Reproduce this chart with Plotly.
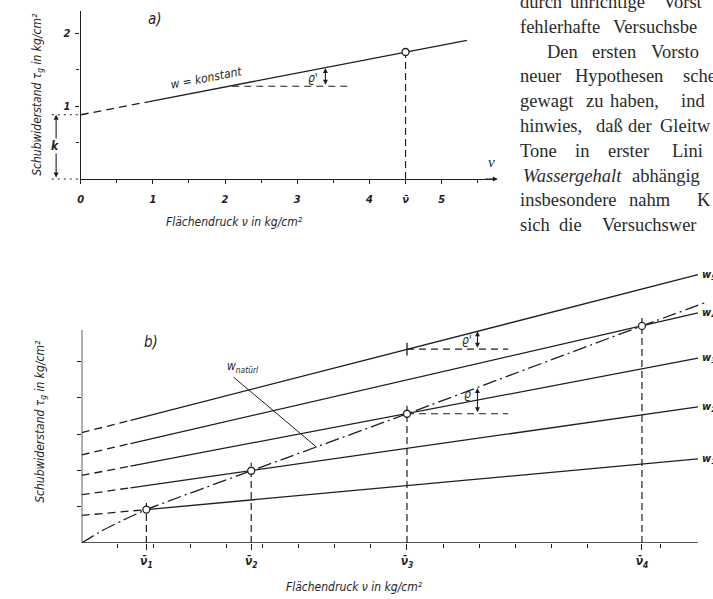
import plotly.graph_objects as go

W, H = 713, 599
INK = "#1e1e1e"
SANS = "DejaVu Sans Condensed, Liberation Sans Narrow, DejaVu Sans, sans-serif"
SERIF = "Liberation Serif, DejaVu Serif, serif"

# ---------------- panel a) data ----------------
a_line_x = [0.0, 0.95, 4.5, 5.35]
a_line_y = [0.88, 1.06, 1.74, 1.90]
a_nu_bar_x = [4.5]
a_nu_bar_y = [1.74]
a_k = 0.88
a_xtick_vals = [0, 1, 2, 3, 4, 4.5, 5]
a_xtick_text = ["0", "1", "2", "3", "4", "ν̄", "5"]
a_ytick_vals = [1, 2]
a_ytick_text = ["1", "2"]

# ---------------- panel b) data ----------------
b_w_labels = ["w<sub>1</sub>", "w<sub>2</sub>", "w<sub>3</sub>", "w<sub>4</sub>", "w<sub>5</sub>"]
b_w1_x, b_w1_y = [0.0, 1.79, 17.05], [0.76, 0.92, 2.32]
b_w2_x, b_w2_y = [0.0, 1.35, 17.05], [1.33, 1.52, 3.75]
b_w3_x, b_w3_y = [0.0, 1.35, 17.05], [1.86, 2.12, 5.09]
b_w4_x, b_w4_y = [0.0, 1.35, 17.05], [2.43, 2.74, 6.34]
b_w5_x, b_w5_y = [0.0, 1.35, 17.05], [3.04, 3.38, 7.39]
b_nat_x = [0.0, 0.55, 1.15, 1.79, 4.69, 9.0, 15.5, 17.3]
b_nat_y = [0.0, 0.33, 0.63, 0.92, 1.99, 3.56, 5.98, 6.64]
b_nu_bar_x = [1.79, 4.69, 9.0, 15.5]
b_nu_bar_y = [0.92, 1.99, 3.56, 5.98]
b_nu_bar_text = ["ν̄<sub>1</sub>", "ν̄<sub>2</sub>", "ν̄<sub>3</sub>", "ν̄<sub>4</sub>"]
b_minor_ticks = [1, 2, 3, 4, 5, 6, 7, 8, 10, 11, 12, 13, 14, 16]
b_ytick_vals = [1, 2, 3, 4, 5]

# ---------------- book text (right column) ----------------
text_lines = [
    [("durch", 517), ("unrichtige", 567), ("Vorst", 661)],
    [("fehlerhafte", 517), ("Versuchsbe", 611)],
    [("Den", 544), ("ersten", 589), ("Vorsto", 649)],
    [("neuer", 517), ("Hypothesen", 572), ("sche", 681)],
    [("gewagt", 517), ("zu", 583), ("haben,", 608), ("ind", 679)],
    [("hinwies,", 517), ("daß", 593), ("der", 626), ("Gleitw", 658)],
    [("Tone", 517), ("in", 572), ("erster", 606), ("Lini", 670)],
    [("<i>Wassergehalt</i>", 520), ("abhängig", 630)],
    [("insbesondere", 517), ("nahm", 627), ("K", 695)],
    [("sich", 517), ("die", 556), ("Versuchswer", 600)],
]

# ---------------- geometry (pixels) ----------------
A_X0, A_XU, A_Y0, A_YU = 78, 72.5, 179, 73
A_XMAX, A_YMAX = 5.75, 2.3
B_X0, B_XU, B_Y0, B_YU = 79, 36.3, 543, 36.3
B_XMAX, B_YMAX = 17.4, 7.8
B_XAX_END, B_YAX_END = 17.05, 5.87


def px(x):
    return x / W


def py(y):
    return 1 - y / H


fig = go.Figure()
line = dict(color=INK, width=1.3)

# ---- panel a traces
fig.add_trace(go.Scatter(x=a_line_x[:2], y=a_line_y[:2], mode="lines",
                         line=dict(color=INK, width=1.3, dash="8px,5px"), xaxis="x", yaxis="y"))
fig.add_trace(go.Scatter(x=a_line_x[1:], y=a_line_y[1:], mode="lines", line=line, xaxis="x", yaxis="y"))
for vx, vy in zip(a_nu_bar_x, a_nu_bar_y):
    fig.add_trace(go.Scatter(x=[vx, vx], y=[0, vy], mode="lines",
                             line=dict(color=INK, width=1.2, dash="7px,4px"), xaxis="x", yaxis="y"))
fig.add_trace(go.Scatter(x=[2.1, 3.72], y=[1.27, 1.27], mode="lines",
                         line=dict(color=INK, width=1.1, dash="7px,5px"), xaxis="x", yaxis="y"))
fig.add_trace(go.Scatter(x=a_nu_bar_x, y=a_nu_bar_y, mode="markers", cliponaxis=False,
                         marker=dict(symbol="circle", size=7, color="white", line=dict(color=INK, width=1.3)),
                         xaxis="x", yaxis="y"))

# ---- panel b traces
for wx, wy in [(b_w1_x, b_w1_y), (b_w2_x, b_w2_y), (b_w3_x, b_w3_y), (b_w4_x, b_w4_y), (b_w5_x, b_w5_y)]:
    fig.add_trace(go.Scatter(x=wx[:2], y=wy[:2], mode="lines",
                             line=dict(color=INK, width=1.3, dash="8px,5px"), xaxis="x2", yaxis="y2"))
    fig.add_trace(go.Scatter(x=wx[1:], y=wy[1:], mode="lines", line=line, xaxis="x2", yaxis="y2"))
for vx, vy in zip(b_nu_bar_x, b_nu_bar_y):
    fig.add_trace(go.Scatter(x=[vx, vx], y=[0, vy + 0.22], mode="lines",
                             line=dict(color=INK, width=1.2, dash="7px,4px"), xaxis="x2", yaxis="y2"))
fig.add_trace(go.Scatter(x=b_nat_x, y=b_nat_y, mode="lines", line_shape="spline",
                         line=dict(color=INK, width=1.3, dash="14px,4px,2px,4px", smoothing=0.6),
                         xaxis="x2", yaxis="y2"))
# angle construction lines
fig.add_trace(go.Scatter(x=[9.0, 11.8], y=[5.34, 5.34], mode="lines",
                         line=dict(color=INK, width=1.1, dash="7px,5px"), xaxis="x2", yaxis="y2"))
fig.add_trace(go.Scatter(x=[9.0, 11.8], y=[3.56, 3.56], mode="lines",
                         line=dict(color=INK, width=1.1, dash="7px,5px"), xaxis="x2", yaxis="y2"))
fig.add_trace(go.Scatter(x=[9.0], y=[5.34], mode="markers",
                         marker=dict(symbol="line-ns", size=9, line=dict(color=INK, width=1.3)),
                         xaxis="x2", yaxis="y2"))
# leader line of w_natürl
fig.add_trace(go.Scatter(x=[4.2, 6.5], y=[4.57, 2.64], mode="lines", line=dict(color=INK, width=1.0),
                         xaxis="x2", yaxis="y2"))
fig.add_trace(go.Scatter(x=b_nu_bar_x, y=b_nu_bar_y, mode="markers", cliponaxis=False,
                         marker=dict(symbol="circle", size=7, color="white", line=dict(color=INK, width=1.3)),
                         xaxis="x2", yaxis="y2"))

# ---- shapes: axis lines of b, dotted k guides of a
shapes = [
    dict(type="line", xref="x2", yref="y2", x0=0, x1=B_XAX_END, y0=0, y1=0, line=dict(color=INK, width=1.4)),
    dict(type="line", xref="x2", yref="y2", x0=0, x1=0, y0=0, y1=B_YAX_END, line=dict(color=INK, width=1.4)),
    dict(type="line", xref="x domain", yref="y domain", x0=-0.4 / A_XMAX, x1=0, y0=a_k / A_YMAX,
         y1=a_k / A_YMAX, line=dict(color=INK, width=1.1, dash="2px,4px")),
    dict(type="line", xref="x domain", yref="y domain", x0=-0.4 / A_XMAX, x1=0, y0=0, y1=0,
         line=dict(color=INK, width=1.1, dash="2px,4px")),
]

ann = []


def txt(x, y, s, size=12, xref="x", yref="y", angle=0, family=SANS, xanchor="center", bg=None, color=INK):
    d = dict(x=x, y=y, xref=xref, yref=yref, text=s, showarrow=False, textangle=angle,
             font=dict(family=family, size=size, color=color), xanchor=xanchor, yanchor="middle")
    if bg:
        d["bgcolor"] = bg
        d["borderpad"] = 0
    ann.append(d)


def arrow(x, y, ax, ay, xref="x", yref="y", both=True, head=2):
    ann.append(dict(x=x, y=y, ax=ax, ay=ay, xref=xref, yref=yref, axref=xref, ayref=yref,
                    text="", showarrow=True, arrowhead=head, startarrowhead=head, arrowsize=0.9,
                    arrowwidth=1.1, arrowcolor=INK, arrowside="end+start" if both else "end",
                    standoff=0, startstandoff=0))


def arrow_px(xp, yp, dx, dy, both=True, head=2):
    # arrow positioned in page pixels; tail offset (dx, dy) in pixels
    ann.append(dict(x=px(xp), y=py(yp), xref="paper", yref="paper", ax=dx, ay=dy,
                    text="", showarrow=True, arrowhead=head, startarrowhead=head, arrowsize=0.9,
                    arrowwidth=1.1, arrowcolor=INK, arrowside="end+start" if both else "end",
                    standoff=0, startstandoff=0))


# panel a annotations
txt(1.03, 2.19, "<i>a)</i>", size=15)
txt(1.74, 1.38, "<i>w = konstant</i>", size=12, angle=-11)
txt(3.22, 1.39, "<i>ϱ'</i>", size=12)
arrow(3.39, 1.52, 3.39, 1.27)
k_xpx = A_X0 - 0.34 * A_XU
arrow_px(k_xpx, A_Y0 - a_k * A_YU, 0, a_k * A_YU)
txt(px(k_xpx - 1), py(A_Y0 - 0.45 * A_YU), "<i><b>k</b></i>", size=12, xref="paper", yref="paper", bg="white")
txt(5.69, 0.23, "<i>ν</i>", size=15, family=SERIF)
arrow_px(A_X0 + A_XMAX * A_XU + 2, A_Y0, -14, 0, both=False)
txt(px(232), py(222), "<i>Flächendruck ν in kg/cm²</i>", size=12, xref="paper", yref="paper")
txt(px(35), py(94), "<i>Schubwiderstand τ<sub>g</sub> in kg/cm²</i>", size=12, xref="paper", yref="paper",
    angle=-90)

# panel b annotations
txt(1.93, 5.54, "<i>b)</i>", size=15, xref="x2", yref="y2")
txt(4.45, 4.85, "<i>w<sub>natürl</sub></i>", size=12, xref="x2", yref="y2")
txt(10.65, 5.58, "<i>ϱ'</i>", size=12, xref="x2", yref="y2")
arrow(10.95, 5.83, 10.95, 5.34, xref="x2", yref="y2")
txt(10.68, 4.1, "<i>ϱ</i>", size=12, xref="x2", yref="y2")
arrow(10.95, 4.27, 10.95, 3.56, xref="x2", yref="y2")
for lab, wy in zip(b_w_labels, [b_w1_y, b_w2_y, b_w3_y, b_w4_y, b_w5_y]):
    txt(17.1, wy[-1], "<i><b>" + lab + "</b></i>", size=11, xref="x2", yref="y2", xanchor="left")
txt(px(353), py(587), "<i>Flächendruck ν in kg/cm²</i>", size=12, xref="paper", yref="paper")
txt(px(38), py(421), "<i>Schubwiderstand τ<sub>g</sub> in kg/cm²</i>", size=12, xref="paper", yref="paper",
    angle=-90)

# book text
for i, words in enumerate(text_lines):
    yc = 2 + 24.8 * i
    for w, x in words:
        txt(px(x), py(yc), w, size=18.5, xref="paper", yref="paper", family=SERIF, xanchor="left",
            color="#2a2a2a")

axis_common = dict(showgrid=False, zeroline=False, linecolor=INK, linewidth=1.4, ticks="outside",
                   tickcolor=INK, tickwidth=1.2, ticklen=4, tickfont=dict(family=SANS, size=11, color=INK))

fig.update_layout(
    width=W, height=H, margin=dict(l=0, r=0, t=0, b=0),
    paper_bgcolor="white", plot_bgcolor="rgba(0,0,0,0)", showlegend=False,
    xaxis=dict(axis_common, domain=[px(A_X0), px(A_X0 + A_XMAX * A_XU)], range=[0, A_XMAX],
               showline=True, anchor="y", tickmode="array", tickvals=a_xtick_vals,
               ticktext=["<i><b>" + t + "</b></i>" for t in a_xtick_text], ticklabelstandoff=6,
               minor=dict(tickvals=[0.5, 1.5, 2.5, 3.5, 5.5], ticklen=3, ticks="outside",
                          tickcolor=INK, tickwidth=1.1)),
    yaxis=dict(axis_common, domain=[py(A_Y0), py(A_Y0 - A_YMAX * A_YU)], range=[0, A_YMAX],
               showline=True, anchor="x", tickmode="array", tickvals=a_ytick_vals,
               ticktext=["<i><b>" + t + "</b></i>" for t in a_ytick_text], ticklabelstandoff=3,
               minor=dict(tickvals=[0.5, 1.5], ticklen=3, ticks="outside", tickcolor=INK, tickwidth=1.1)),
    xaxis2=dict(axis_common, domain=[px(B_X0), px(B_X0 + B_XMAX * B_XU)], range=[0, B_XMAX],
                showline=False, anchor="y2", tickmode="array", tickvals=b_nu_bar_x,
                ticktext=["<i><b>" + t + "</b></i>" for t in b_nu_bar_text], ticklen=6, ticklabelstandoff=1,
                tickfont=dict(family=SANS, size=12, color=INK),
                minor=dict(tickvals=b_minor_ticks, ticklen=4, ticks="outside", tickcolor=INK, tickwidth=1.1)),
    yaxis2=dict(axis_common, domain=[py(B_Y0), py(B_Y0 - B_YMAX * B_YU)], range=[0, B_YMAX],
                showline=False, anchor="x2", tickmode="array", tickvals=b_ytick_vals, showticklabels=False),
    shapes=shapes,
    annotations=ann,
)

fig.write_html("out.html", config={"displayModeBar": False},
               post_script="document.body.style.margin='0';document.body.style.overflow='hidden';")
